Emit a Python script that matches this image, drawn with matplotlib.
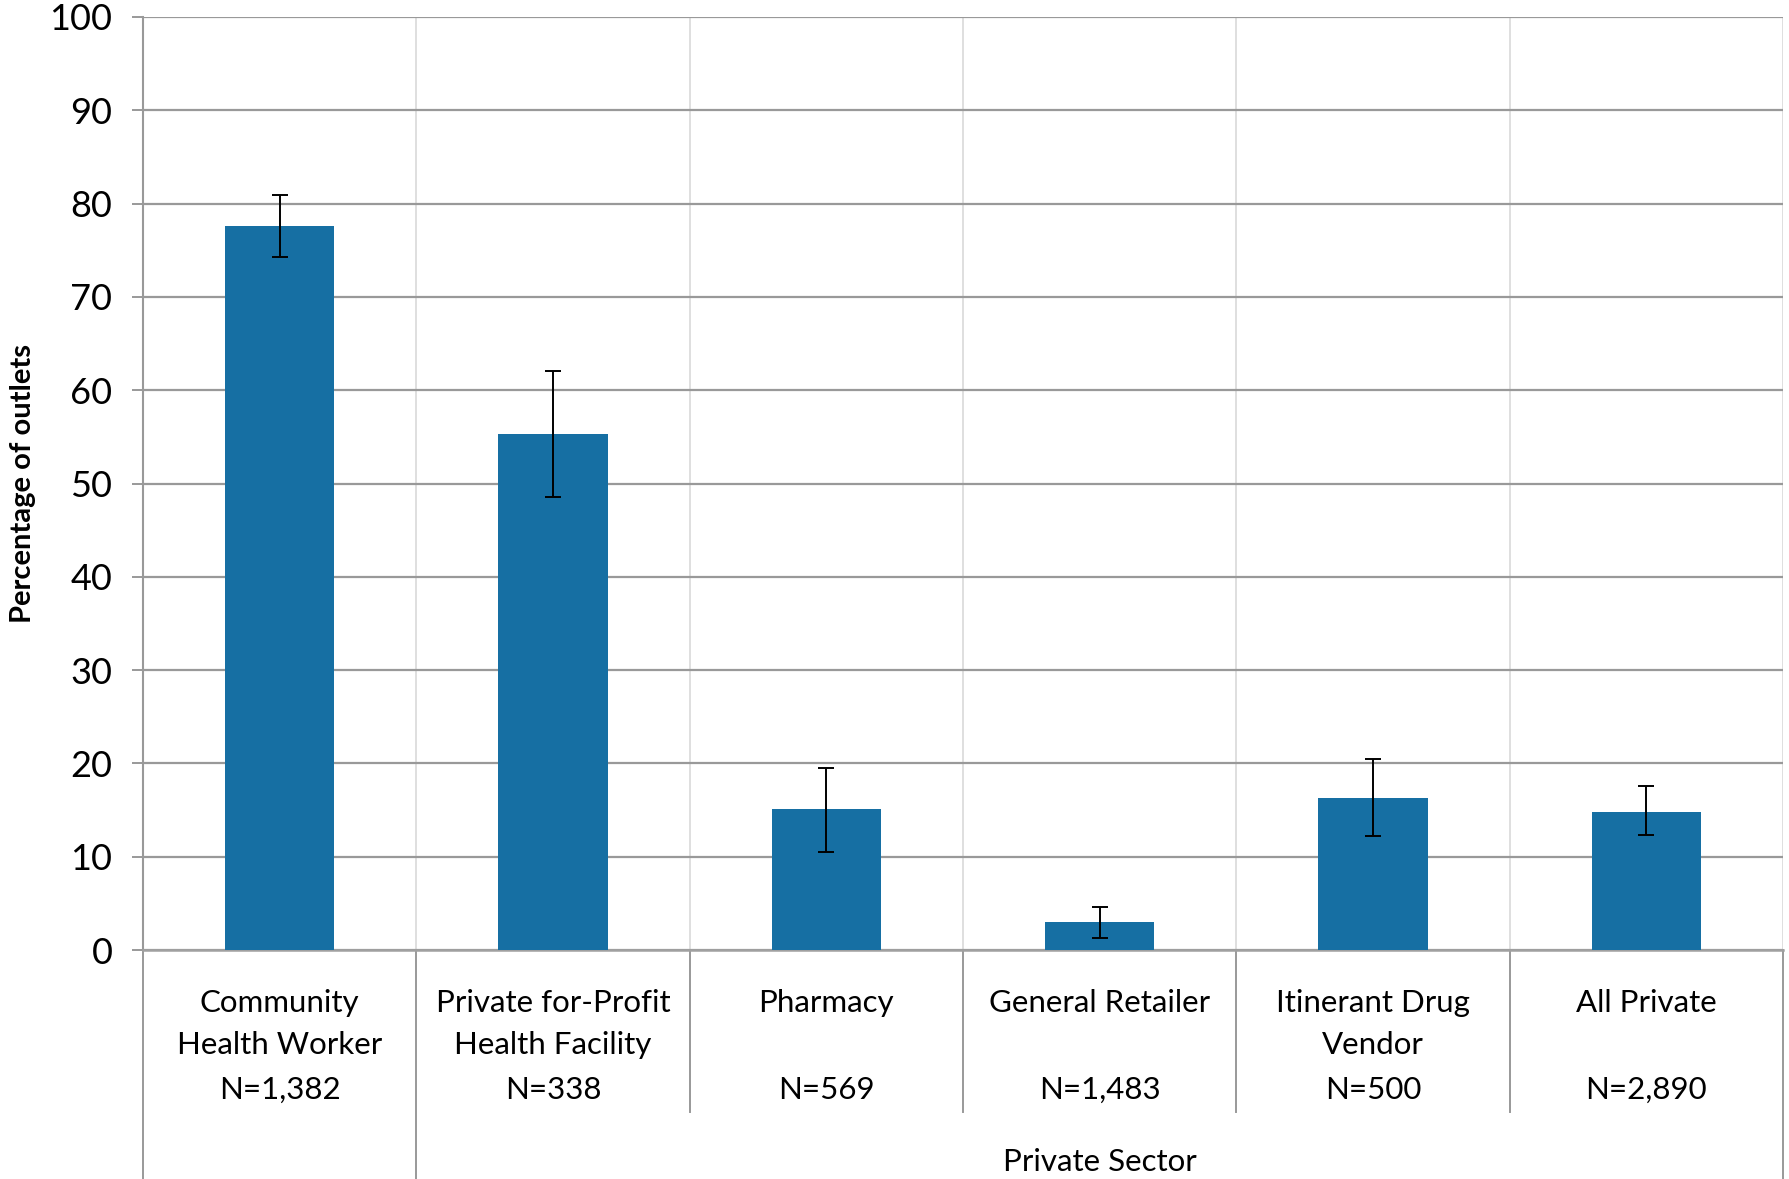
import matplotlib.pyplot as plt
import matplotlib.transforms as mtransforms

# data
categories = ["Community\nHealth Worker", "Private for-Profit\nHealth Facility",
              "Pharmacy", "General Retailer", "Itinerant Drug\nVendor", "All Private"]
sample_sizes = ["N=1,382", "N=338", "N=569", "N=1,483", "N=500", "N=2,890"]
values = [77.6, 55.3, 15.1, 3.0, 16.3, 14.8]
err_low = [74.3, 48.6, 10.5, 1.3, 12.2, 12.3]
err_high = [80.9, 62.1, 19.5, 4.6, 20.5, 17.6]
group_label = "Private Sector"

plt.rcParams['font.family'] = ['Lato', 'DejaVu Sans']

W, H = 1789, 1179
fig = plt.figure(figsize=(W / 100, H / 100), dpi=100)
left, right, top, bottom = 143, 1783, 17, 950
ax = fig.add_axes([left / W, (H - bottom) / H, (right - left) / W, (bottom - top) / H])

xs = list(range(len(values)))
yerr = [[v - lo for v, lo in zip(values, err_low)],
        [hi - v for v, hi in zip(values, err_high)]]

bar_color = '#166fa3'
ax.bar(xs, values, width=0.4, color=bar_color, zorder=3)
ax.errorbar(xs, values, yerr=yerr, fmt='none', ecolor='black',
            elinewidth=1.4, capsize=5.8, capthick=1.4, zorder=4)

ax.set_xlim(-0.5, len(values) - 0.5)
ax.set_ylim(0, 100)
ax.set_yticks(range(0, 101, 10))
ax.tick_params(axis='y', labelsize=26, length=8, width=1.4, color='#999999', pad=14)
ax.set_xticks([])

ax.yaxis.grid(True, color='#999999', linewidth=1.6, zorder=0)
for x in [i + 0.5 for i in range(len(values))]:
    ax.axvline(x, color='#d9d9d9', linewidth=1.2, zorder=1)

for side in ['top', 'right']:
    ax.spines[side].set_visible(False)
ax.spines['left'].set_color('#999999')
ax.spines['left'].set_linewidth(1.5)
ax.spines['bottom'].set_color('#a0a0a0')
ax.spines['bottom'].set_linewidth(1.8)

ax.set_ylabel("Percentage of outlets", fontsize=21, fontweight='bold', labelpad=10)

# category table under the axis
trans = mtransforms.blended_transform_factory(ax.transData, ax.transAxes)
ax_h = bottom - top
short = -(1112 - bottom) / ax_h
full = -(H - bottom) / ax_h
for i in range(len(values) + 1):
    x = i - 0.5
    y_end = full if i in (0, 1, len(values)) else short
    ax.plot([x, x], [0, y_end], color='#999999', linewidth=1.4,
            transform=trans, clip_on=False)

line1 = -(1003 - bottom) / ax_h
line2 = -(1045 - bottom) / ax_h
line_n = -(1090 - bottom) / ax_h
fs = 22.5
for x, name, n in zip(xs, categories, sample_sizes):
    parts = name.split("\n")
    ax.text(x, line1, parts[0], transform=trans, ha='center', va='center', fontsize=fs)
    if len(parts) > 1:
        ax.text(x, line2, parts[1], transform=trans, ha='center', va='center', fontsize=fs)
    ax.text(x, line_n, n, transform=trans, ha='center', va='center', fontsize=fs)

group_y = -(1162 - bottom) / ax_h
ax.text((1 + len(values) - 1) / 2, group_y, group_label, transform=trans,
        ha='center', va='center', fontsize=fs)

fig.savefig("out.png", dpi=100)
